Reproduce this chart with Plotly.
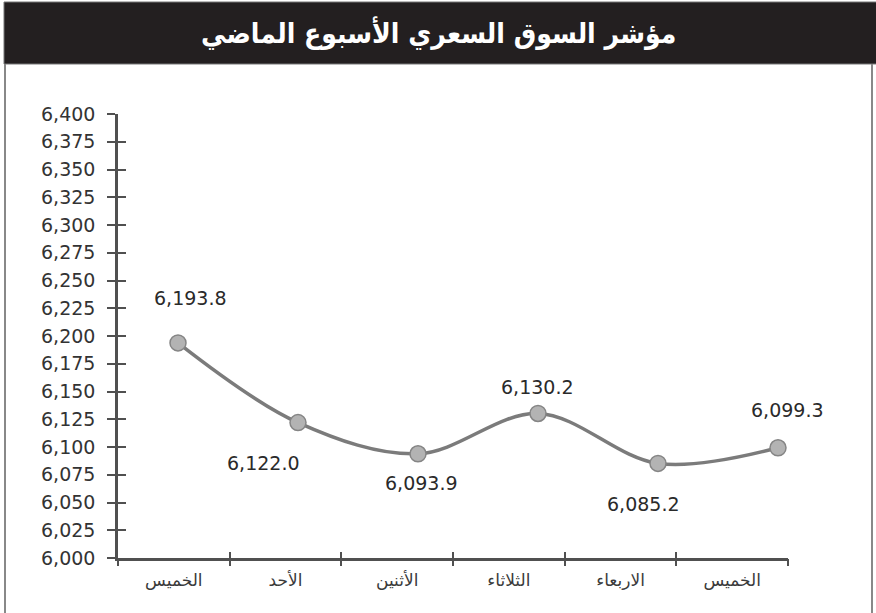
import plotly.graph_objects as go

# ---- data ----
days = ["الخميس", "الأحد", "الأثنين", "الثلاثاء", "الاربعاء", "الخميس"]
index_values = [6193.8, 6122.0, 6093.9, 6130.2, 6085.2, 6099.3]
y_min, y_max, y_step = 6000, 6400, 25
title_text = "مؤشر السوق السعري الأسبوع الماضي"

# ---- layout constants (styling) ----
W, H = 876, 613
L, R, T, B = 118, 88, 114, 55
PW, PH = W - L - R, H - T - B
AX = "#505050"
TXT = "#2a2a2a"

def fx(px):
    return (px - L) / PW

def fy(py):
    return (H - B - py) / PH

pos = list(range(len(days)))
bounds = [p - 0.5 for p in pos] + [pos[-1] + 0.5]

# label offsets (pixels) relative to each point
label_dx = [12, -35, 3, -1, -15, 9]
label_dy = [45, -40, -29, 26, -41, 38]

fig = go.Figure()

fig.add_trace(go.Scatter(
    x=pos, y=index_values,
    mode="lines+markers",
    line=dict(shape="spline", smoothing=1.0, color="#7b7b7b", width=3.5),
    marker=dict(size=16, color="#b3b3b3", line=dict(color="#858585", width=1.5)),
    showlegend=False, hoverinfo="skip",
))
# empty helper traces so the overlay tick/label axes get drawn
for xa, ya in [("x2", "y"), ("x3", "y"), ("x4", "y"), ("x", "y2")]:
    fig.add_trace(go.Scatter(x=[], y=[], xaxis=xa, yaxis=ya,
                             showlegend=False, hoverinfo="skip"))

annotations = []
for i, v in enumerate(index_values):
    annotations.append(dict(
        x=pos[i], y=v, xref="x", yref="y", text=f"{v:,.1f}",
        showarrow=False, xshift=label_dx[i], yshift=label_dy[i],
        font=dict(family="DejaVu Sans", size=19, color=TXT),
    ))
annotations.append(dict(
    x=fx(438), y=fy(33), xref="paper", yref="paper", text=title_text,
    showarrow=False, xanchor="center", yanchor="middle",
    font=dict(family="DejaVu Sans Condensed, DejaVu Sans", size=28, color="white", weight="bold"),
))

shapes = [
    dict(type="rect", xref="paper", yref="paper",
         x0=fx(4), x1=fx(877), y0=fy(64), y1=fy(2),
         fillcolor="#231f20", line=dict(color="#777777", width=1), layer="below"),
    dict(type="line", xref="paper", yref="paper",
         x0=fx(5), x1=fx(5), y0=fy(64), y1=fy(614),
         line=dict(color="#888888", width=2)),
    dict(type="line", xref="paper", yref="paper",
         x0=fx(872), x1=fx(872), y0=fy(64), y1=fy(614),
         line=dict(color="#888888", width=2)),
]

fig.update_layout(
    width=W, height=H,
    margin=dict(l=L, r=R, t=T, b=B, pad=0),
    paper_bgcolor="white", plot_bgcolor="white",
    showlegend=False,
    annotations=annotations, shapes=shapes,
    # data axis: points spaced as in the reference
    xaxis=dict(
        range=[-0.5, -0.5 + PW / 120.0], showticklabels=False, ticks="",
        showline=True, linecolor=AX, linewidth=2.5,
        showgrid=False, zeroline=False,
    ),
    # category label axis
    xaxis2=dict(
        overlaying="x", anchor="y", side="bottom", range=[bounds[0], bounds[-1]],
        tickmode="array", tickvals=pos, ticktext=days, ticks="",
        showline=False, showgrid=False, zeroline=False, ticklabelstandoff=10,
        tickfont=dict(family="DejaVu Sans", size=17, color="#3a3a3a"),
    ),
    xaxis3=dict(
        overlaying="x", anchor="y", side="bottom", range=[bounds[0], bounds[-1]],
        tickmode="array", tickvals=bounds, ticks="outside", ticklen=7, tickwidth=2,
        tickcolor=AX, showticklabels=False, showline=False, showgrid=False, zeroline=False,
    ),
    xaxis4=dict(
        overlaying="x", anchor="y", side="bottom", range=[bounds[0], bounds[-1]],
        tickmode="array", tickvals=bounds, ticks="inside", ticklen=6, tickwidth=2,
        tickcolor=AX, showticklabels=False, showline=False, showgrid=False, zeroline=False,
    ),
    yaxis=dict(
        range=[y_min, y_max], tickmode="linear", tick0=y_min, dtick=y_step,
        tickformat=",d", ticks="outside", ticklen=8, tickwidth=2, tickcolor=AX,
        showline=True, linecolor=AX, linewidth=2.5, showgrid=False, zeroline=False,
        ticklabelstandoff=8,
        tickfont=dict(family="DejaVu Sans", size=19, color="#333333"),
    ),
    yaxis2=dict(
        overlaying="y", anchor="x", side="left", range=[y_min, y_max],
        tickmode="linear", tick0=y_min, dtick=y_step,
        ticks="inside", ticklen=8, tickwidth=2, tickcolor=AX,
        showticklabels=False, showline=False, showgrid=False, zeroline=False,
    ),
)

fig.write_html("out.html", config={"displayModeBar": False},
               post_script="document.body.style.margin='0px';")
